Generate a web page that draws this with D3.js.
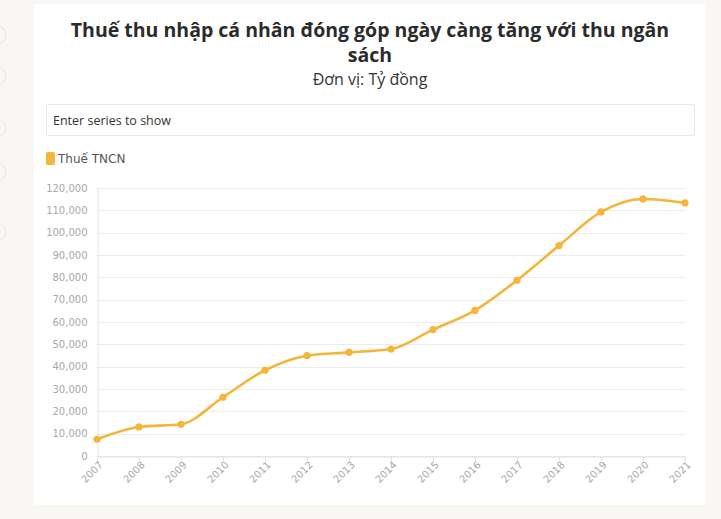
<!DOCTYPE html>
<html><head><meta charset="utf-8">
<script src="https://cdn.jsdelivr.net/npm/d3@7"></script>
<style>
html,body{margin:0;padding:0;background:#f8f7f3;}
svg{display:block;}
</style></head>
<body>
<svg id="chart" width="721" height="519"></svg>
<script>
const years = ["2007","2008","2009","2010","2011","2012","2013","2014","2015","2016","2017","2018","2019","2020","2021"];
const values = [7500,13000,14200,26300,38400,44900,46400,47900,56600,65200,78700,94200,109300,115100,113300];
const yTicks = [0,10000,20000,30000,40000,50000,60000,70000,80000,90000,100000,110000,120000];
const seriesName = "Thuế TNCN";
const titleLines = ["Thuế thu nhập cá nhân đóng góp ngày càng tăng với thu ngân","sách"];
const subtitle = "Đơn vị: Tỷ đồng";

const svg = d3.select("#chart");
const color = "#f4b63a";

// decorative faint circles on left edge
[35,76,128,172,232].forEach(cy=>{
  svg.append("circle").attr("cx",-3).attr("cy",cy).attr("r",9)
    .attr("fill","none").attr("stroke","#e6e4de").attr("stroke-width",1);
});

// card
svg.append("rect").attr("x",34).attr("y",4).attr("width",671).attr("height",501).attr("fill","#ffffff");

// title
const tt = svg.append("text").attr("text-anchor","middle")
  .attr("font-family","'Open Sans', 'Noto Sans', sans-serif").attr("font-weight","700")
  .attr("font-size",19.5).attr("fill","#2b2b2b");
titleLines.forEach((l,i)=>{
  tt.append("tspan").attr("x",370).attr("y",37 + i*25).text(l);
});
svg.append("text").attr("x",370).attr("y",85).attr("text-anchor","middle")
  .attr("font-family","'Open Sans', 'Noto Sans', sans-serif").attr("font-size",16)
  .attr("fill","#333").text(subtitle);

// search box
svg.append("rect").attr("x",46.5).attr("y",104.5).attr("width",648).attr("height",31)
  .attr("fill","#fff").attr("stroke","#e8e8e8").attr("rx",2);
svg.append("text").attr("x",53).attr("y",125)
  .attr("font-family","'Open Sans', 'Noto Sans', sans-serif").attr("font-size",12.5)
  .attr("fill","#333").text("Enter series to show");

// legend
svg.append("rect").attr("x",46).attr("y",152).attr("width",9).attr("height",13).attr("rx",2).attr("fill",color);
svg.append("text").attr("x",58).attr("y",163)
  .attr("font-family","'DejaVu Sans', sans-serif").attr("font-size",12)
  .attr("fill","#555").text(seriesName);

// scales
const x = d3.scalePoint().domain(years).range([97,685]);
const y = d3.scaleLinear().domain([0,120000]).range([456,188]);

// grid
svg.append("g").selectAll("line").data(yTicks).join("line")
  .attr("x1",97).attr("x2",685)
  .attr("y1",d=>Math.round(y(d))+0.5).attr("y2",d=>Math.round(y(d))+0.5)
  .attr("stroke","#ececec").attr("stroke-width",1);

// y axis
const yAxis = svg.append("g").attr("transform","translate(97.5,0)")
  .call(d3.axisLeft(y).tickValues(yTicks).tickSize(0).tickPadding(10).tickFormat(d3.format(",")));
yAxis.select(".domain").attr("stroke","#e6e6e6");
yAxis.selectAll("text").attr("font-family","'DejaVu Sans', sans-serif").attr("font-size",10).attr("fill","#a8a8a8");

// x axis
const xAxis = svg.append("g").attr("transform","translate(0,456.5)")
  .call(d3.axisBottom(x).tickSize(5).tickSizeOuter(0));
xAxis.select(".domain").attr("stroke","#e0e0e0");
xAxis.selectAll(".tick line").attr("stroke","#e0e0e0");
xAxis.selectAll("text").attr("font-family","'DejaVu Sans', sans-serif").attr("font-size",10).attr("fill","#a8a8a8")
  .attr("text-anchor","end").attr("dy",0).attr("y",0)
  .attr("transform","translate(6,9) rotate(-45)");

// line
const line = d3.line().x((d,i)=>x(years[i])).y(d=>y(d)).curve(d3.curveMonotoneX);
svg.append("path").datum(values).attr("d",line).attr("fill","none")
  .attr("stroke",color).attr("stroke-width",2.6).attr("stroke-linejoin","round");
svg.selectAll("circle.pt").data(values).join("circle").attr("class","pt")
  .attr("cx",(d,i)=>x(years[i])).attr("cy",d=>y(d)).attr("r",3.6).attr("fill",color);
</script>
</body></html>
